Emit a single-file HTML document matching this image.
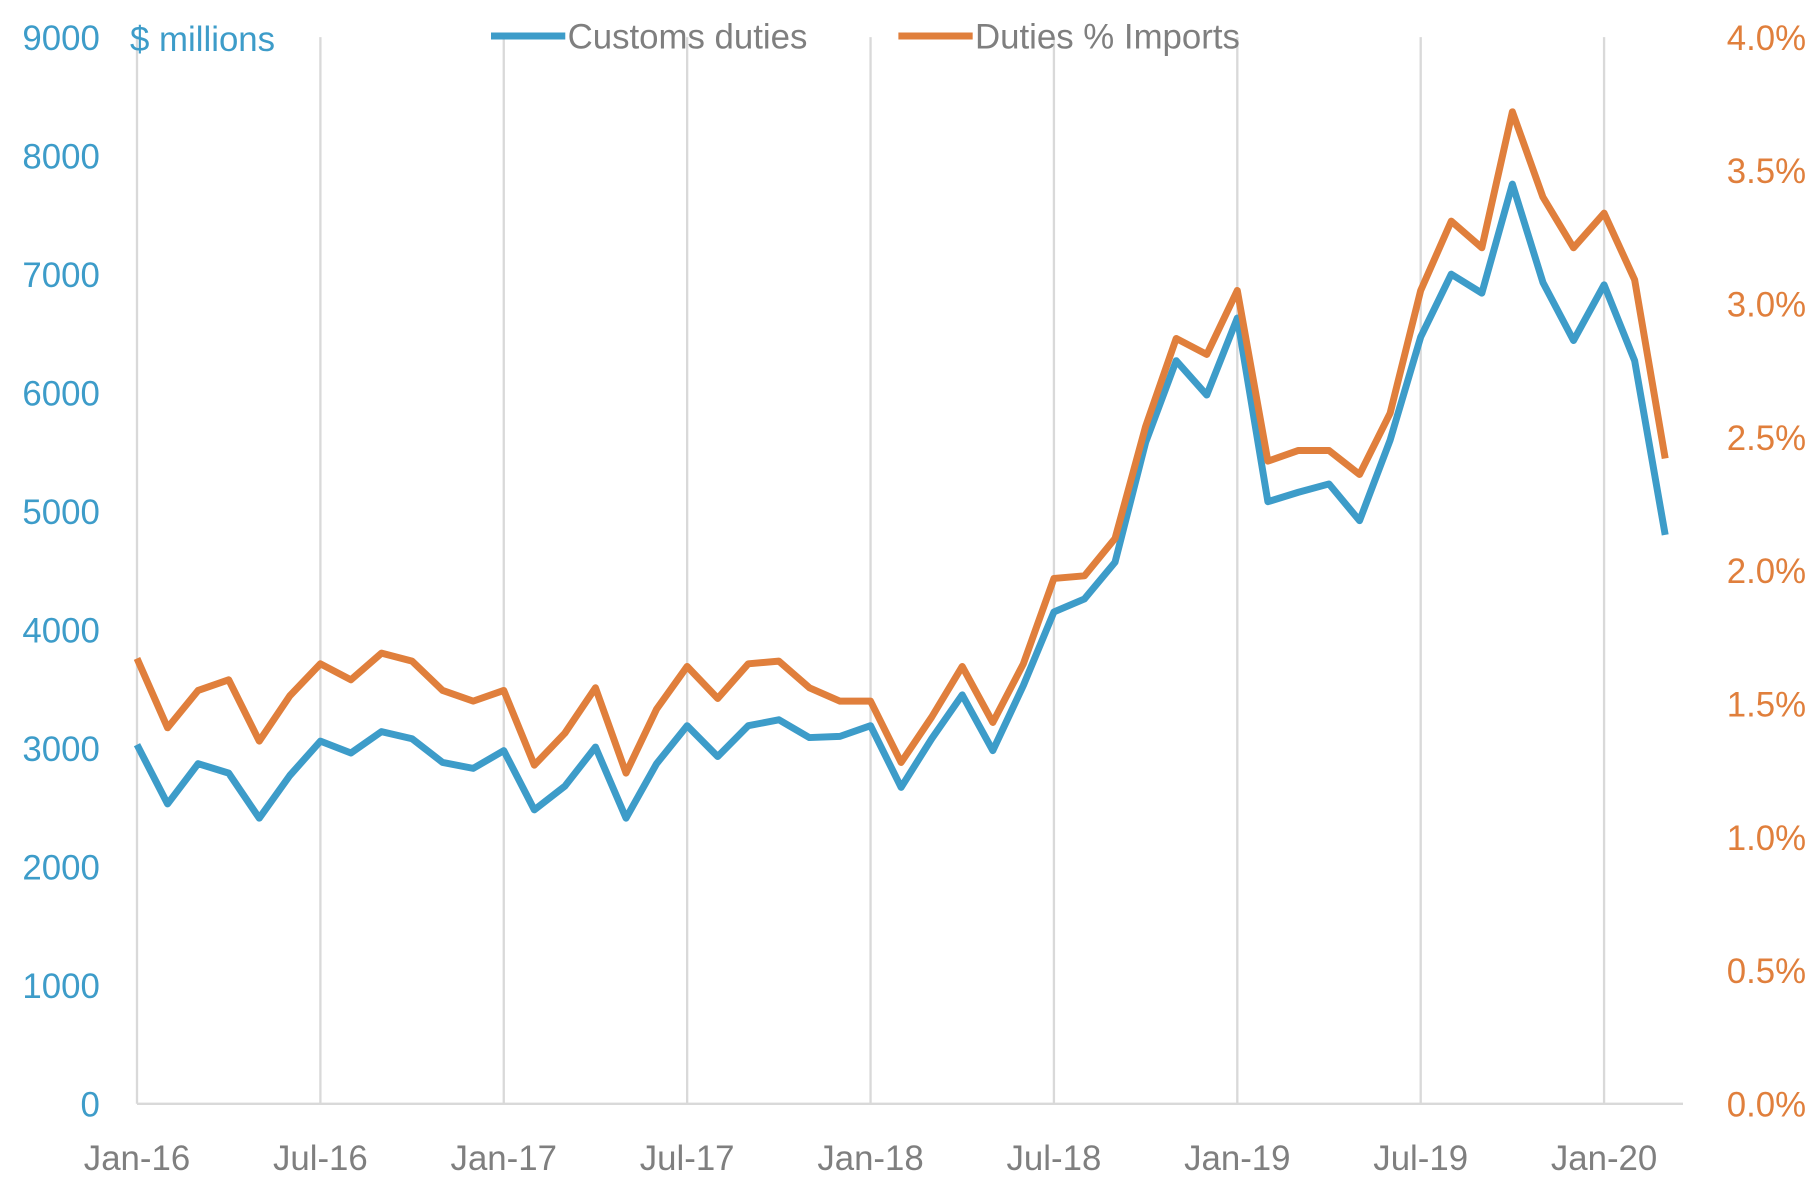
<!DOCTYPE html>
<html><head><meta charset="utf-8"><style>
html,body{margin:0;padding:0;background:#fff;}
svg{display:block;font-family:"Liberation Sans",sans-serif;}
</style></head><body>
<svg id="chart" width="1820" height="1192" viewBox="0 0 1568 1027" xmlns="http://www.w3.org/2000/svg">
<g id="grid"></g>
<g id="axes"></g>
<g id="series"></g>
<text x="112" y="44" font-size="30" fill="#3d9cc9">$ millions</text>
<g>
<line x1="423" y1="31" x2="487" y2="31" stroke="#3d9cc9" stroke-width="6"/>
<text x="489" y="42" font-size="30" fill="#7f7f7f">Customs duties</text>
<line x1="774" y1="31" x2="838" y2="31" stroke="#e07f3c" stroke-width="6"/>
<text x="840" y="42" font-size="30" fill="#7f7f7f">Duties % Imports</text>
</g>
</svg>
<script>
const duties=[3030,2530,2870,2790,2410,2770,3060,2960,3140,3080,2880,2830,2980,2480,2680,3010,2410,2870,3190,2930,3190,3240,3090,3100,3190,2670,3080,3450,2980,3530,4150,4260,4570,5580,6270,5980,6630,5080,5160,5230,4920,5600,6470,7000,6840,7760,6930,6440,6910,6270,4800];
const pctImports=[1.67,1.41,1.55,1.59,1.36,1.53,1.65,1.59,1.69,1.66,1.55,1.51,1.55,1.27,1.39,1.56,1.24,1.48,1.64,1.52,1.65,1.66,1.56,1.51,1.51,1.28,1.45,1.64,1.43,1.65,1.97,1.98,2.12,2.54,2.87,2.81,3.05,2.41,2.45,2.45,2.36,2.59,3.05,3.31,3.21,3.72,3.40,3.21,3.34,3.09,2.42];
const xLabels=["Jan-16","Jul-16","Jan-17","Jul-17","Jan-18","Jul-18","Jan-19","Jul-19","Jan-20"];
const leftTicks=[0,1000,2000,3000,4000,5000,6000,7000,8000,9000];
const rightTicks=[0,0.5,1,1.5,2,2.5,3,3.5,4];
const NS="http://www.w3.org/2000/svg";
const x=i=>118+i*(1264/48);
const yL=v=>951-v*(919/9000);
const yR=v=>951-v*(919/4);
function mk(tag,attrs,parent,txt){const e=document.createElementNS(NS,tag);for(const k in attrs)e.setAttribute(k,attrs[k]);if(txt!==undefined)e.textContent=txt;parent.appendChild(e);return e;}
const grid=document.getElementById('grid'),axes=document.getElementById('axes'),series=document.getElementById('series');
xLabels.forEach((l,k)=>{const xx=x(k*6);
 const g=mk('line',{x1:xx,x2:xx,y1:yL(9000),y2:951,stroke:'#d9d9d9','stroke-width':2},grid);
 
 
 const t=mk('text',{x:xx,y:1008,'font-size':30,fill:'#7f7f7f','text-anchor':'middle'},axes,l);
 
 
});
const ax=mk('line',{x1:118,x2:1450,y1:951,y2:951,stroke:'#d9d9d9','stroke-width':2},axes);


leftTicks.forEach(v=>{const t=mk('text',{x:86,y:yL(v)+11,'font-size':30,fill:'#3d9cc9','text-anchor':'end'},axes,String(v));
 
 });
rightTicks.forEach(v=>{const t=mk('text',{x:1556,y:yR(v)+11,'font-size':30,fill:'#e07f3c','text-anchor':'end'},axes,v.toFixed(1)+'%');
 
 });
const pb=mk('polyline',{points:duties.map((v,i)=>x(i)+','+yL(v)).join(' '),fill:'none',stroke:'#3d9cc9','stroke-width':6,'stroke-linejoin':'round'},series);


const po=mk('polyline',{points:pctImports.map((v,i)=>x(i)+','+yR(v)).join(' '),fill:'none',stroke:'#e07f3c','stroke-width':6,'stroke-linejoin':'round'},series);


</script>
</body></html>
